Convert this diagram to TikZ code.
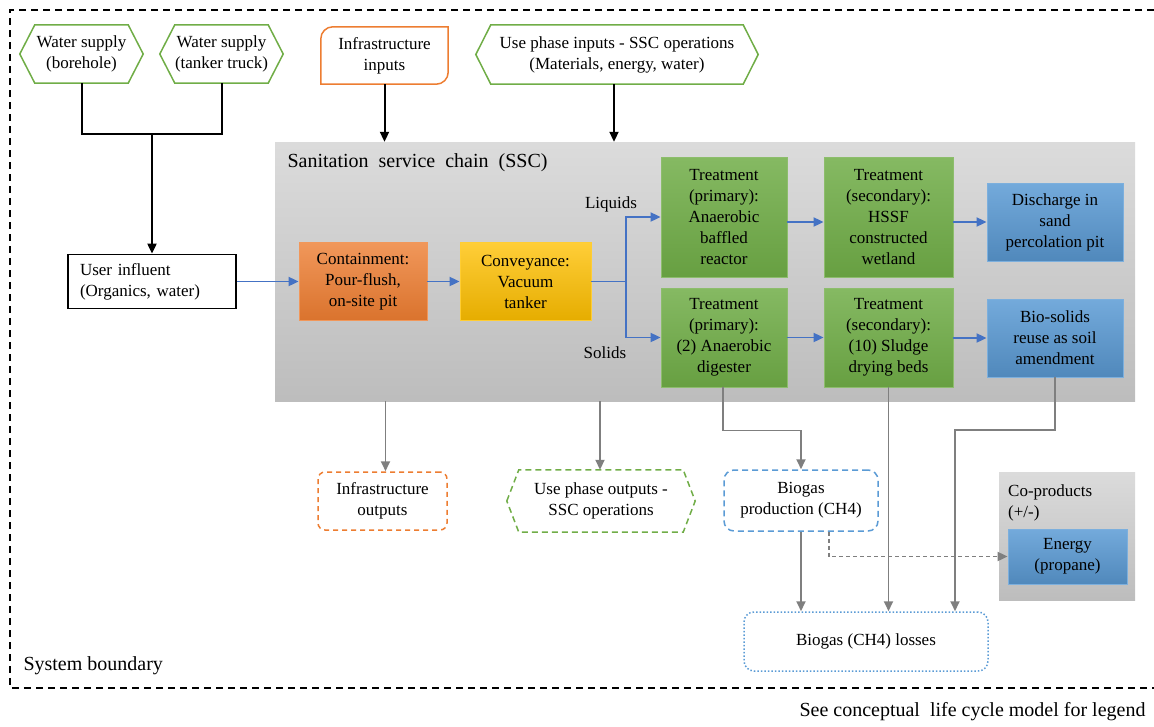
\documentclass[tikz,border=0pt]{standalone}
\usepackage{fontspec}
\setmainfont{Liberation Serif}
\usetikzlibrary{arrows.meta}

\definecolor{ssgreen}{HTML}{70AD47}
\definecolor{ssblue}{HTML}{5B9BD5}
\definecolor{ssorange}{HTML}{ED7D31}
\definecolor{ssgold}{HTML}{FFC000}
\definecolor{ssline}{HTML}{4472C4}
\definecolor{ssgray}{HTML}{7F7F7F}

\tikzset{
  greenbox/.style={draw=ssgreen!80!white, line width=0.8pt, top color=ssgreen!85!white, bottom color=ssgreen!92!black, align=center, minimum width=126, minimum height=#1},
  bluebox/.style={draw=ssblue!80!white, line width=0.8pt, top color=ssblue!85!white, bottom color=ssblue!88!black, align=center, minimum width=136, minimum height=78},
  graybox/.style={top color=black!14, bottom color=black!26},
  hexline/.style={draw=ssgreen, line width=1.5pt},
  flow/.style={ssline, line width=1.8pt, -{Triangle[length=10pt,width=9pt]}},
  feed/.style={black, line width=2pt, -{Triangle[length=10pt,width=9pt]}},
  outflow/.style={ssgray, line width=1.8pt, -{Triangle[length=10pt,width=9pt]}},
}

\begin{document}
\begin{tikzpicture}[x=1pt,y=-1pt]
\pgfmathsetmacro{\hexin}{15};
\useasboundingbox (0,0) rectangle (1154,726);

\begin{scope}[font=\fontsize{17}{21}\selectfont]

% system boundary
\draw[black, line width=1.5pt, dash pattern=on 7pt off 5pt] (1154,10) -- (10,10) -- (10,688) -- (1154,688);
\node[anchor=west, font=\fontsize{20}{24}\selectfont] (sysb) at (20,666) {System boundary};
\node[anchor=east, font=\fontsize{20}{24}\selectfont] (legend) at (1149,712) {See conceptual\ \ life cycle model for legend};

% sanitation service chain
\node[graybox, minimum width=860, minimum height=259] (ssc) at (705,271.5) {};
\node[anchor=west, font=\fontsize{20}{24}\selectfont] (ssct) at (284,163) {Sanitation\ \ service\ \ chain\ \ (SSC)};

% inputs
\node[minimum width=123, minimum height=58, align=center] (bore) at (81.5,54) {Water supply\\(borehole)};
\node[minimum width=123, minimum height=58, align=center] (tank) at (221.5,54) {Water supply\\(tanker truck)};
\node[minimum width=127, minimum height=57, align=center] (infIn) at (384.5,55.5) {Infrastructure\\inputs};
\node[minimum width=282, minimum height=59, align=center] (useIn) at (617,54.5) {Use phase inputs - SSC operations\\(Materials, energy, water)};
\foreach \n in {bore,tank,useIn}
  \draw[hexline] (\n.west) -- ([xshift=\hexin pt]\n.north west) -- ([xshift=-\hexin pt]\n.north east)
    -- (\n.east) -- ([xshift=-\hexin pt]\n.south east) -- ([xshift=\hexin pt]\n.south west) -- cycle;
\draw[draw=ssorange, line width=1.5pt] (infIn.south west) {[rounded corners=12pt] -- (infIn.north west) -- (infIn.north)}
  -- (infIn.north east) {[rounded corners=12pt] -- (infIn.south east) -- (infIn.south)} -- cycle;

\node[draw, line width=1.8pt, align=left, text width=144, inner xsep=12pt, minimum height=54] (usr) at (152,281.5) {User influent\\(Organics,\ water)};

% chain
\node[draw=ssorange!80!white, line width=0.8pt, top color=ssorange!80!white, bottom color=ssorange!92!black, align=center, minimum width=128, minimum height=78] (cont) at (363,281.5) {Containment:\\Pour-flush,\\on-site pit};
\node[draw=ssgold!80!white, line width=0.8pt, top color=ssgold!78!white, bottom color=ssgold!90!black, align=center, minimum width=131, minimum height=78] (conv) at (525.5,281.5) {Conveyance:\\Vacuum\\tanker};
\node[greenbox=120] (priL) at (724,217) {Treatment\\(primary):\\Anaerobic\\baffled\\reactor};
\node[greenbox=120, minimum width=129] (secL) at (888.5,217) {Treatment\\(secondary):\\HSSF\\constructed\\wetland};
\node[bluebox] (disc) at (1055,222) {Discharge in\\sand\\percolation pit};
\node[greenbox=99] (priS) at (724,337.5) {Treatment\\(primary):\\(2) Anaerobic\\digester};
\node[greenbox=99, minimum width=129] (secS) at (888.5,337.5) {Treatment\\(secondary):\\(10) Sludge\\drying beds};
\node[bluebox] (bios) at (1055,338) {Bio-solids\\reuse as soil\\amendment};
\node (liq) at (611,204) {Liquids};
\node (sol) at (605,353) {Solids};

% outputs
\node[draw=ssorange, line width=1.5pt, dash pattern=on 5pt off 4pt, rounded corners=7pt, align=center, minimum width=129, minimum height=58] (infOut) at (382.5,501) {Infrastructure\\outputs};
\node[minimum width=188, minimum height=62, align=center] (useOut) at (601,501) {Use phase outputs -\\SSC operations};
\draw[hexline, dash pattern=on 6pt off 4pt] (useOut.west) -- ([xshift=12pt]useOut.north west) -- ([xshift=-12pt]useOut.north east)
  -- (useOut.east) -- ([xshift=-12pt]useOut.south east) -- ([xshift=12pt]useOut.south west) -- cycle;
\node[draw=ssblue, line width=1.5pt, dash pattern=on 6pt off 4pt, rounded corners=10pt, align=center, minimum width=154, minimum height=61] (biogas) at (801,500.5) {Biogas\\production (CH4)};
\node[draw=ssblue, line width=1.5pt, dash pattern=on 1.5pt off 2pt, rounded corners=10pt, minimum width=244, minimum height=59] (loss) at (866,641.5) {Biogas (CH4) losses};

% co-products
\node[graybox, minimum width=136, minimum height=128] (coprod) at (1067,536) {};
\node[anchor=west, align=left, inner sep=2pt] (copt) at (1006,503) {Co-products\\(+/-)};
\node[bluebox, minimum width=119, minimum height=55] (energy) at (1067.5,556.5) {Energy\\(propane)};

% connectors
\coordinate (wj) at (152,134);
\draw[black, line width=2pt] (bore.south) |- (wj) -| (tank.south);
\draw[feed] (wj) -- (usr.north);
\draw[feed] (infIn.south) -- (infIn.south |- ssc.north);
\draw[feed] ([xshift=-3pt]useIn.south) -- ([xshift=-3pt]useIn.south |- ssc.north);

\draw[flow] (usr.east) -- (cont.west);
\draw[flow] (cont.east) -- (conv.west);
\coordinate (split) at (626,281.5);
\draw[ssline, line width=1.8pt] (conv.east) -- (split);
\draw[flow] (split) |- (priL.west);
\draw[flow] (split) |- (priS.west);
\draw[flow] (priL.east |- disc.west) -- (secL.west |- disc.west);
\draw[flow] (secL.east |- disc.west) -- (disc.west);
\draw[flow] (priS.east) -- (secS.west);
\draw[flow] (secS.east |- bios.west) -- (bios.west);

\draw[outflow] ([xshift=3pt]infOut.north |- ssc.south) -- ([xshift=3pt]infOut.north);
\draw[outflow] ([xshift=-1pt]useOut.north |- ssc.south) -- ([xshift=-1pt]useOut.north);
\draw[outflow] ([xshift=-1pt]priS.south) -- ++(0,43) -| (biogas.north);
\draw[outflow] (secS.south) -- (secS.south |- loss.north);
\coordinate (bend) at (955,430);
\draw[outflow] (bios.south) |- (bend) -- (bend |- loss.north);
\draw[outflow] (biogas.south) -- (biogas.south |- loss.north);
\draw[outflow, dash pattern=on 4pt off 3pt] ([xshift=28pt]biogas.south) |- (energy.west);

\end{scope}
\end{tikzpicture}
\end{document}
